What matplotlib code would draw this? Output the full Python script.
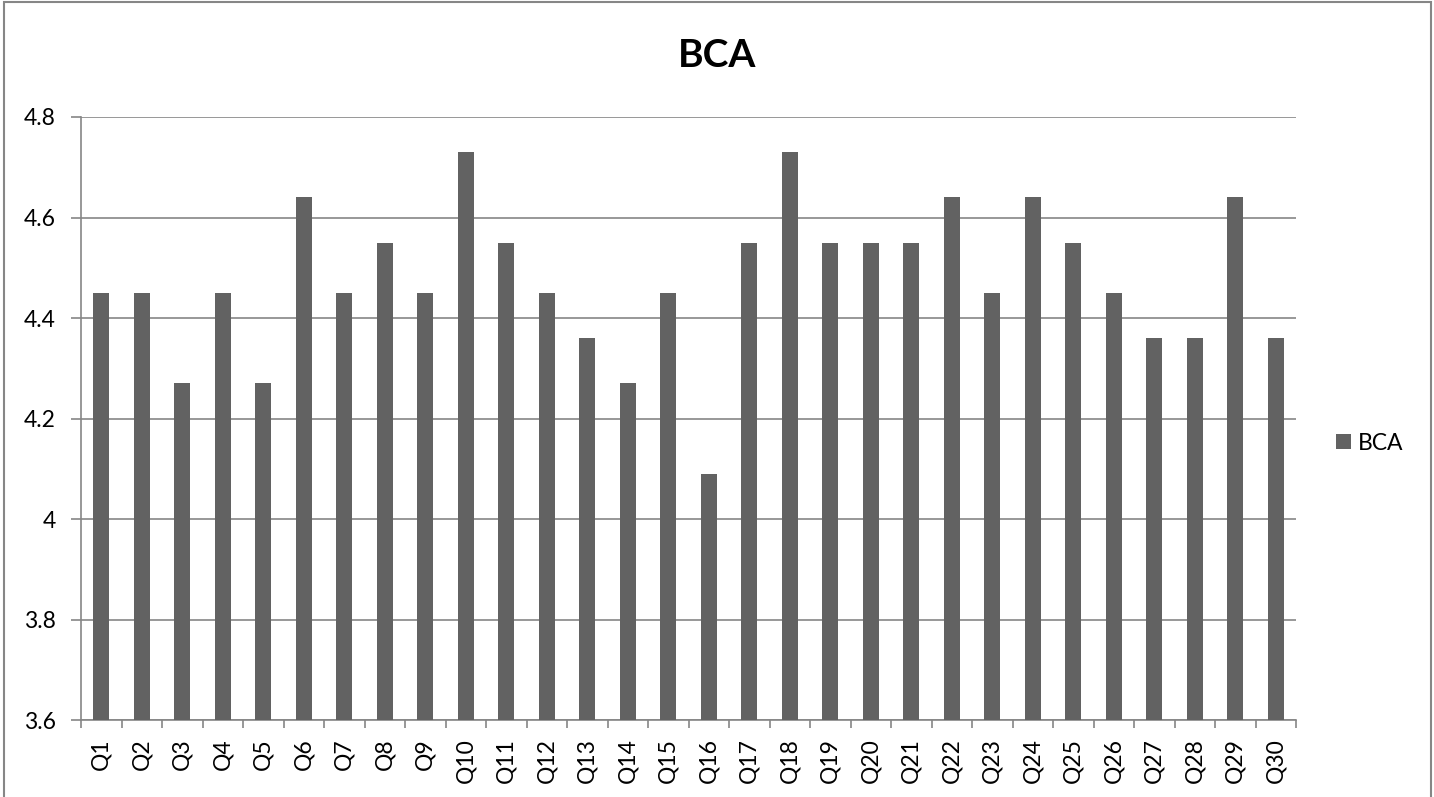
import matplotlib.pyplot as plt
from matplotlib.patches import Rectangle

# Data
categories = [f"Q{i}" for i in range(1, 31)]
bca = [4.45, 4.45, 4.27, 4.45, 4.27, 4.64, 4.45, 4.55, 4.45, 4.73,
       4.55, 4.45, 4.36, 4.27, 4.45, 4.09, 4.55, 4.73, 4.55, 4.55,
       4.55, 4.64, 4.45, 4.64, 4.55, 4.45, 4.36, 4.36, 4.64, 4.36]
yticks = [3.6, 3.8, 4.0, 4.2, 4.4, 4.6, 4.8]
ytick_labels = ["3.6", "3.8", "4", "4.2", "4.4", "4.6", "4.8"]

plt.rcParams['font.family'] = ['Lato', 'DejaVu Sans']
grid_col = '#868686'

fig = plt.figure(figsize=(14.34, 7.97), dpi=100)
ax = fig.add_axes([0.0565, 0.0966, 0.8473, 0.7566])

x = list(range(len(categories)))
ax.bar(x, bca, width=0.4, color='#626262', label='BCA', zorder=3)

ax.set_xlim(-0.5, len(categories) - 0.5)
ax.set_ylim(3.6, 4.8)
ax.set_yticks(yticks)
ax.set_yticklabels(ytick_labels, fontsize=16.5)
ax.yaxis.grid(True, color=grid_col, linewidth=1.2, zorder=0)

ax.set_xticks(x)
ax.set_xticklabels(categories, rotation=90, fontsize=16.5)
ax.set_xticks([i - 0.5 for i in range(len(categories) + 1)], minor=True)
ax.tick_params(axis='x', which='major', length=0, pad=13)
ax.tick_params(axis='x', which='minor', length=6, color=grid_col, width=1.2)
ax.tick_params(axis='y', length=7, color=grid_col, width=1.2, pad=11)

for s in ['top', 'right']:
    ax.spines[s].set_visible(False)
for s in ['left', 'bottom']:
    ax.spines[s].set_color(grid_col)
    ax.spines[s].set_linewidth(1.2)

fig.text(0.5, 0.93, 'BCA', ha='center', va='center', fontsize=28, fontweight='bold')

ax.legend(loc='center left', bbox_to_anchor=(0.925, 0.444), bbox_transform=fig.transFigure,
          frameon=False, fontsize=16.5, handlelength=0.65, handleheight=0.65,
          handletextpad=0.3, borderaxespad=0)

# outer chart border
fig.patches.append(Rectangle((0.003, -0.1), 0.995, 1.097, transform=fig.transFigure,
                             fill=False, edgecolor=grid_col, linewidth=1.5))

fig.savefig('out.png', dpi=100)
